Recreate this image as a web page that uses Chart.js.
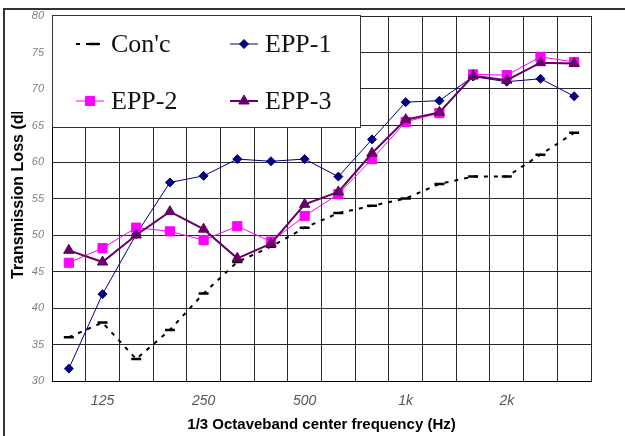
<!DOCTYPE html>
<html><head><meta charset="utf-8">
<script src="https://cdn.jsdelivr.net/npm/chart.js@4/dist/chart.umd.min.js"></script>
<style>html,body{margin:0;padding:0;background:#fff;}canvas{display:block;}</style>
</head><body>
<canvas id="c" width="625" height="436"></canvas>
<script>
const categories = ['100','125','160','200','250','315','400','500','630','800','1k','1.25k','1.6k','2k','2.5k','3.15k'];
const shownTicks = ['125','250','500','1k','2k'];
const seriesNames = ["Con'c", 'EPP-1', 'EPP-2', 'EPP-3'];
const conc = [36, 38, 33, 37, 42, 46.3, 48.4, 51, 53, 54, 55, 57, 58, 58, 61, 64];
const epp1 = [31.7, 41.9, 50.1, 57.2, 58.1, 60.4, 60.1, 60.4, 58.0, 63.1, 68.2, 68.4, 71.7, 71.0, 71.4, 69.0];
const epp2 = [46.2, 48.2, 51.0, 50.5, 49.3, 51.2, 49.1, 52.6, 55.6, 60.4, 65.5, 66.7, 72.0, 71.9, 74.4, 73.7];
const epp3 = [47.9, 46.3, 50.0, 53.2, 50.8, 46.8, 48.8, 54.2, 55.9, 61.2, 65.8, 66.8, 71.8, 71.2, 73.6, 73.5];
const yMin = 30, yMax = 80, yStep = 5;
const yTitle = 'Transmission Loss (dB)';
const xTitle = '1/3 Octaveband center frequency (Hz)';

const SANS = '"Liberation Sans", Arial, sans-serif';
const SERIF = '"Liberation Serif", "Times New Roman", serif';

function drawMarker(ctx, style, x, y, r, color) {
  ctx.save();
  ctx.fillStyle = color; ctx.strokeStyle = color; ctx.lineWidth = 1;
  ctx.setLineDash([]);
  ctx.beginPath();
  if (style === 'rectRot') {
    ctx.moveTo(x, y - r); ctx.lineTo(x + r, y); ctx.lineTo(x, y + r); ctx.lineTo(x - r, y); ctx.closePath();
    ctx.fill(); ctx.stroke();
  } else if (style === 'rect') {
    const s = r * Math.SQRT1_2;
    ctx.rect(x - s, y - s, 2 * s, 2 * s); ctx.fill(); ctx.stroke();
  } else if (style === 'triangle') {
    for (let k = 0; k < 3; k++) {
      const a = k * 2 * Math.PI / 3;
      const px = x + Math.sin(a) * r, py = y - Math.cos(a) * r;
      if (k === 0) ctx.moveTo(px, py); else ctx.lineTo(px, py);
    }
    ctx.closePath(); ctx.fill(); ctx.stroke();
  } else if (style === 'line') {
    ctx.lineWidth = 2.5;
    ctx.moveTo(x - r, y); ctx.lineTo(x + r, y); ctx.stroke();
  }
  ctx.restore();
}

const framePlugin = {
  id: 'frame',
  beforeDraw(chart) {
    const ctx = chart.ctx;
    ctx.save();
    ctx.fillStyle = '#fff';
    ctx.fillRect(0, 0, chart.width, chart.height);
    ctx.strokeStyle = '#333';
    ctx.lineWidth = 2;
    ctx.beginPath();
    ctx.moveTo(4, 440); ctx.lineTo(4, 9); ctx.lineTo(630, 9);
    ctx.stroke();
    ctx.restore();
  },
  afterDraw(chart) {
    const ctx = chart.ctx;
    ctx.save();
    ctx.beginPath();
    ctx.rect(0, 112, 50, 330);
    ctx.clip();
    ctx.translate(23, 279);
    ctx.rotate(-Math.PI / 2);
    ctx.font = 'bold 16px ' + SANS;
    ctx.fillStyle = '#000';
    ctx.textAlign = 'left';
    ctx.textBaseline = 'alphabetic';
    ctx.fillText(yTitle, 0, 0);
    ctx.restore();
  }
};

const legendPlugin = {
  id: 'boxLegend',
  afterDatasetsDraw(chart) {
    const ctx = chart.ctx;
    const a = chart.chartArea;
    const bx = a.left, by = a.top - 1, bw = 308, bh = 112;
    ctx.save();
    ctx.fillStyle = '#fff';
    ctx.fillRect(bx, by, bw, bh);
    ctx.strokeStyle = '#333';
    ctx.lineWidth = 1;
    ctx.strokeRect(bx + 0.5, by + 0.5, bw, bh);
    const cols = [bx + 24, bx + 178];
    const rows = [by + 29, by + 86];
    chart.data.datasets.forEach((ds, i) => {
      const x0 = cols[i % 2], y0 = rows[Math.floor(i / 2)];
      const x1 = x0 + 28;
      ctx.save();
      ctx.strokeStyle = ds.borderColor;
      ctx.lineWidth = ds.borderWidth;
      ctx.setLineDash(ds.borderDash || []);
      ctx.beginPath(); ctx.moveTo(x0, y0); ctx.lineTo(x1, y0); ctx.stroke();
      ctx.restore();
      drawMarker(ctx, ds.pointStyle, (x0 + x1) / 2 + (ds.pointStyle === 'line' ? 4 : 0), y0, ds.pointRadius, ds.pointBackgroundColor || ds.borderColor);
      ctx.fillStyle = '#111';
      ctx.font = '26px ' + SERIF;
      ctx.textAlign = 'left';
      ctx.textBaseline = 'middle';
      ctx.fillText(ds.label, x1 + 7, y0 + 1);
    });
    ctx.restore();
  }
};

new Chart(document.getElementById('c'), {
  type: 'line',
  data: {
    labels: categories,
    datasets: [
      { label: seriesNames[0], data: conc, borderColor: '#000', borderWidth: 2, borderDash: [4, 6],
        pointStyle: 'line', pointRadius: 5, pointBorderWidth: 2.5, pointBorderColor: '#000', pointBackgroundColor: '#000', order: 4, tension: 0 },
      { label: seriesNames[1], data: epp1, borderColor: '#000080', borderWidth: 1,
        pointStyle: 'rectRot', pointRadius: 4.5, pointBorderWidth: 1, pointBorderColor: '#000080', pointBackgroundColor: '#000080', order: 3, tension: 0 },
      { label: seriesNames[2], data: epp2, borderColor: '#FF00FF', borderWidth: 1,
        pointStyle: 'rect', pointRadius: 6.5, pointBorderWidth: 1, pointBorderColor: '#FF00FF', pointBackgroundColor: '#FF00FF', order: 2, tension: 0 },
      { label: seriesNames[3], data: epp3, borderColor: '#660066', borderWidth: 2,
        pointStyle: 'triangle', pointRadius: 6, pointBorderWidth: 1, pointBorderColor: '#660066', pointBackgroundColor: '#660066', order: 1, tension: 0 }
    ]
  },
  options: {
    responsive: false,
    animation: false,
    devicePixelRatio: 1,
    layout: { padding: { left: 0, top: 16, right: 34, bottom: 0 } },
    plugins: { legend: { display: false }, tooltip: { enabled: false }, title: { display: false } },
    scales: {
      x: {
        type: 'category',
        offset: true,
        grid: { offset: true, color: '#2a2a2a', lineWidth: 1, drawTicks: false },
        border: { display: true, color: '#000', width: 1 },
        ticks: {
          autoSkip: false, maxRotation: 0, minRotation: 0, padding: 12, color: '#555',
          font: { family: SANS, size: 14, style: 'italic' },
          callback: function (v, i) { const l = categories[i]; return shownTicks.includes(l) ? l : ''; }
        },
        title: { display: true, text: xTitle, color: '#000', font: { family: SANS, size: 15, weight: 'bold' }, padding: { top: 0, bottom: 2 } },
        afterFit(s) { s.height = 55; }
      },
      y: {
        min: yMin, max: yMax,
        grid: { color: '#2a2a2a', lineWidth: 1, drawTicks: false },
        border: { display: true, color: '#000', width: 1 },
        ticks: { stepSize: yStep, padding: 8, color: '#808080', font: { family: SANS, size: 11, style: 'italic' } },
        afterFit(s) { s.width = 52; }
      }
    }
  },
  plugins: [framePlugin, legendPlugin]
});
</script>
</body></html>
